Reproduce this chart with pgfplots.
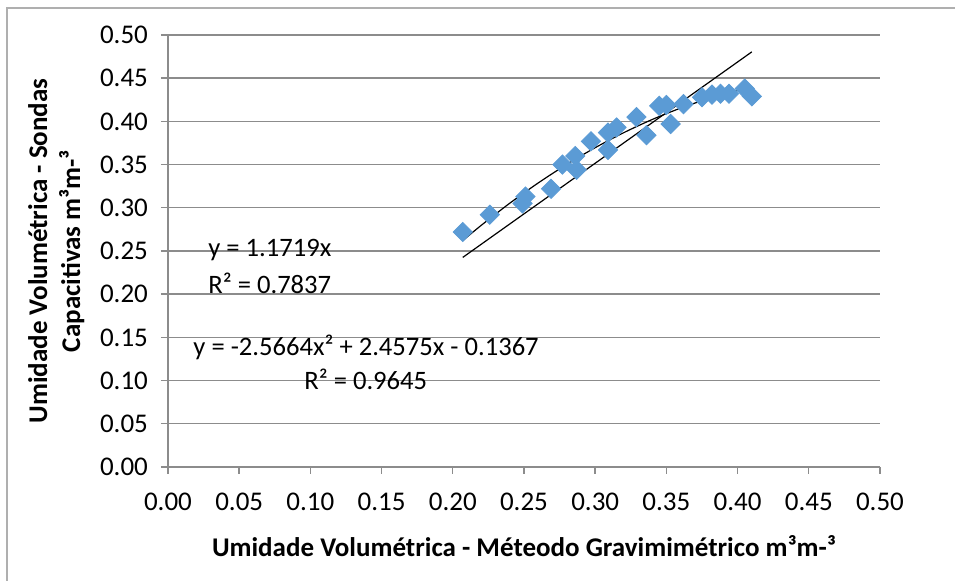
\documentclass[border=0pt]{standalone}
\usepackage{fontspec}
\setmainfont{Carlito}
\usepackage{pgfplots}
\pgfplotsset{compat=1.18}
\definecolor{mk}{RGB}{91,155,213}
\definecolor{gridc}{RGB}{140,140,140}
\definecolor{bord}{RGB}{175,175,175}
\begin{document}
\begin{tikzpicture}
\useasboundingbox (-84pt,-57pt) rectangle (393.5pt,233.5pt);
\draw[bord,line width=0.6pt] (-80.5pt,-57pt) -- (-80.5pt,229.5pt) -- (393.5pt,229.5pt);
\begin{axis}[
  at={(0,0)}, anchor=south west,
  scale only axis, width=356pt, height=216pt,
  xmin=0, xmax=0.5, ymin=0, ymax=0.5,
  xtick={0,0.05,...,0.5}, ytick={0,0.05,...,0.5},
  /pgf/number format/assume math mode=true,
  /pgf/number format/fixed,
  /pgf/number format/fixed zerofill,
  /pgf/number format/precision=2,
  scaled ticks=false,
  tick label style={font=\fontsize{13.5}{15}\selectfont},
  xticklabel style={yshift=-6pt},
  yticklabel style={xshift=-3pt},
  axis x line*=bottom, axis y line*=left,
  axis line style={gridc, line width=0.7pt, -},
  ymajorgrids, major grid style={gridc, line width=0.7pt},
  tick style={gridc, line width=0.7pt},
  tick align=outside, major tick length=3.5pt,
  xlabel={\bfseries Umidade Volumétrica - Méteodo Gravimimétrico m³m-³},
  ylabel={\bfseries Umidade Volumétrica - Sondas\\\bfseries Capacitivas m³m-³},
  label style={font=\fontsize{13.5}{16.5}\selectfont},
  xlabel style={at={(axis description cs:0.5,-0.183)},anchor=center},
  ylabel style={at={(axis description cs:-0.157,0.5)},anchor=center,align=center},
  clip=false,
]
\addplot[only marks, mark=square*, mark size=3.4pt, mark options={rotate=45, fill=mk, draw=mk}] coordinates {
(0.207,0.272) (0.226,0.292) (0.251,0.313) (0.249,0.305) (0.269,0.322)
(0.277,0.350) (0.286,0.360) (0.287,0.344) (0.297,0.377) (0.309,0.367)
(0.309,0.387) (0.315,0.393) (0.329,0.405) (0.336,0.384) (0.345,0.418)
(0.350,0.419) (0.353,0.397) (0.362,0.420) (0.375,0.428) (0.382,0.431)
(0.388,0.432) (0.394,0.432) (0.405,0.438) (0.410,0.429)
};
\addplot[black, line width=0.6pt] coordinates {(0.207,0.24258) (0.410,0.48048)};
\addplot[black, line width=0.6pt, smooth] coordinates {
(0.207,0.26203) (0.22,0.27974) (0.24,0.30528) (0.26,0.32876) (0.28,0.35019)
(0.30,0.36957) (0.32,0.38690) (0.34,0.40217) (0.36,0.41539) (0.38,0.42656)
(0.40,0.43568) (0.410,0.43947)
};
\node[anchor=west,inner sep=0pt,font=\fontsize{13.3}{15}\selectfont] at (axis cs:0.0281,0.251) {y = 1.1719x};
\node[anchor=west,inner sep=0pt,font=\fontsize{13.3}{15}\selectfont] at (axis cs:0.0281,0.213) {R² = 0.7837};
\node[anchor=west,inner sep=0pt,font=\fontsize{13.3}{15}\selectfont] at (axis cs:0.0176,0.138) {y = -2.5664x² + 2.4575x - 0.1367};
\node[anchor=west,inner sep=0pt,font=\fontsize{13.3}{15}\selectfont] at (axis cs:0.0955,0.101) {R² = 0.9645};
\end{axis}
\end{tikzpicture}
\end{document}
